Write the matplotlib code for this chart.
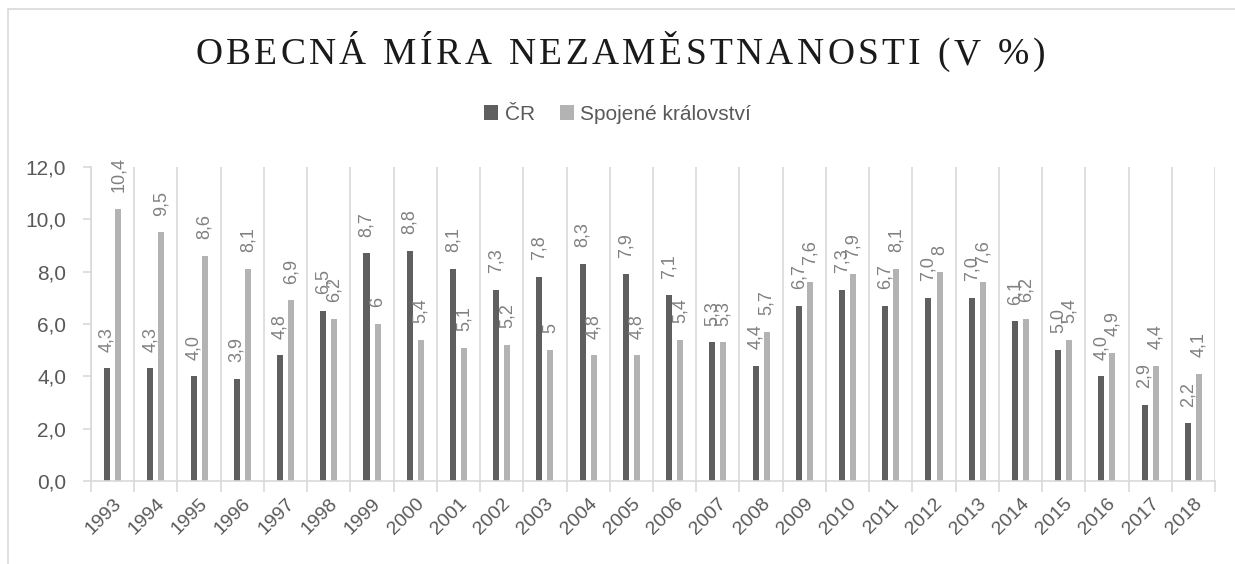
import matplotlib.pyplot as plt
import numpy as np
from matplotlib.patches import Rectangle

# Obecna mira nezamestnanosti, CR vs Spojene kralovstvi
years = list(range(1993, 2019))
cr = [4.3, 4.3, 4.0, 3.9, 4.8, 6.5, 8.7, 8.8, 8.1, 7.3, 7.8, 8.3, 7.9,
      7.1, 5.3, 4.4, 6.7, 7.3, 6.7, 7.0, 7.0, 6.1, 5.0, 4.0, 2.9, 2.2]
uk = [10.4, 9.5, 8.6, 8.1, 6.9, 6.2, 6, 5.4, 5.1, 5.2, 5, 4.8, 4.8,
      5.4, 5.3, 5.7, 7.6, 7.9, 8.1, 8, 7.6, 6.2, 5.4, 4.9, 4.4, 4.1]
uk_labels = ['10,4', '9,5', '8,6', '8,1', '6,9', '6,2', '6', '5,4', '5,1', '5,2', '5', '4,8', '4,8',
             '5,4', '5,3', '5,7', '7,6', '7,9', '8,1', '8', '7,6', '6,2', '5,4', '4,9', '4,4', '4,1']
title = 'OBECNÁ MÍRA NEZAMĚSTNANOSTI (V %)'

plt.rcParams['font.family'] = ['Liberation Sans', 'DejaVu Sans']

fig = plt.figure(figsize=(12.35, 5.64), dpi=100)
ax = fig.add_axes([0.0737, 0.1472, 0.9101, 0.5567])

# chart border
fig.patches.append(Rectangle((8 / 1235, -0.1), 1.2, 1 - 9 / 564 + 0.1, transform=fig.transFigure,
                             fill=False, edgecolor='#d9d9d9', linewidth=1.2))

x = np.arange(len(years))
w = 0.14
b1 = ax.bar(x - 0.128, cr, w, color='#5f5f5f', label='ČR')
b2 = ax.bar(x + 0.128, uk, w, color='#b3b3b3', label='Spojené království')

for i in range(len(years)):
    ax.annotate(('%.1f' % cr[i]).replace('.', ','), (x[i] - 0.128, cr[i]), xytext=(0, 12),
                textcoords='offset points', rotation=90, ha='center', va='bottom',
                fontsize=13, color='#808080')
    ax.annotate(uk_labels[i], (x[i] + 0.128, uk[i]), xytext=(0, 12),
                textcoords='offset points', rotation=90, ha='center', va='bottom',
                fontsize=13, color='#808080')

ax.set_xlim(-0.5, len(years) - 0.5)
ax.set_ylim(0, 12)
ax.set_yticks(np.arange(0, 12.1, 2))
ax.set_yticklabels([('%.1f' % v).replace('.', ',') for v in np.arange(0, 12.1, 2)])
ax.set_xticks(x)
ax.set_xticklabels([str(y) for y in years], rotation=45, ha='right', rotation_mode='anchor')
ax.set_xticks(np.arange(-0.5, len(years), 1), minor=True)
ax.tick_params(axis='x', which='major', length=0, labelsize=14, colors='#595959', pad=10)
ax.tick_params(axis='x', which='minor', length=8, color='#d9d9d9', width=1.2)
ax.tick_params(axis='y', length=6, color='#d9d9d9', width=1.2, labelsize=15, labelcolor='#595959', pad=12)
ax.grid(axis='x', which='minor', color='#d9d9d9', linewidth=1.2)
ax.set_axisbelow(True)
for s in ['top', 'right']:
    ax.spines[s].set_visible(False)
for s in ['left', 'bottom']:
    ax.spines[s].set_color('#d9d9d9')
    ax.spines[s].set_linewidth(1.2)

# title with wide letter spacing, one character at a time
r = fig.canvas.get_renderer()
widths = []
for ch in title:
    t = fig.text(0, 0, ch if ch != ' ' else 'n', fontsize=27, family='Liberation Serif')
    widths.append(t.get_window_extent(r).width * (0.55 if ch == ' ' else 1))
    t.remove()
track = 3.4
total = sum(widths) + track * (len(title) - 1)
xpos = 620 - total / 2
for ch, cw in zip(title, widths):
    fig.text(xpos / 1235, 1 - 55 / 564, ch, ha='left', va='center', fontsize=27,
             family='Liberation Serif', color='#1a1a1a')
    xpos += cw + track

fig.legend(handles=[b1, b2], loc='center', bbox_to_anchor=(0.5, 0.797), ncol=2, frameon=False,
           fontsize=15, labelcolor='#595959', handlelength=0.7, handleheight=0.7,
           handletextpad=0.3, columnspacing=1.2)

fig.savefig('out.png', dpi=100)
